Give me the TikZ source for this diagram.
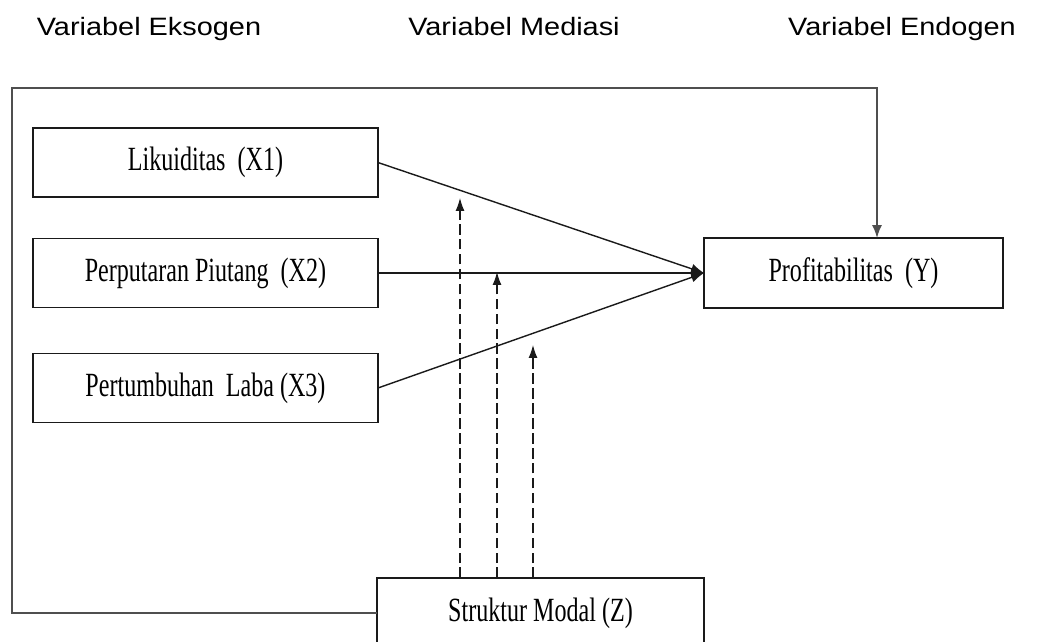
\documentclass[tikz,border=0pt]{standalone}
\usepackage{fontspec}
\setmainfont{Liberation Serif}[FakeStretch=0.71]
\newfontfamily\judulfont{Liberation Sans}[FakeStretch=1.15]
\usepackage{tikz}
\usetikzlibrary{arrows.meta,calc}
\definecolor{garis}{HTML}{1A1A1A}
\definecolor{abu}{HTML}{4F4F4F}
\tikzset{
  kotak/.style={draw=garis,line width=0.9pt,inner sep=0pt,outer sep=0pt,
    font=\fontsize{19.3}{22}\selectfont},
  kotakx/.style={kotak,minimum width=6.9cm,minimum height=1.38cm},
  judul/.style={anchor=base,font=\judulfont\fontsize{14.3}{17}\selectfont},
  panah/.style={-{Latex[length=2.6mm,width=2mm]},garis,line width=0.8pt},
  putus/.style={-{Latex[length=2.6mm,width=1.8mm]},garis,line width=0.7pt,
    dash pattern=on 6pt off 2.5pt},
  balik/.style={-{Latex[length=2.6mm,width=2mm]},abu,line width=0.9pt},
}

\begin{document}
\begin{tikzpicture}[x=0.02cm,y=-0.02cm]
  \clip (0,0) rectangle (1042,642);
  % judul kolom
  \node[judul] (eks) at (149,36) {Variabel Eksogen};
  \node[judul] (med) at (514,36) {Variabel Mediasi};
  \node[judul] (end) at (902,36) {Variabel Endogen};
  % variabel
  \node[kotakx] (likuid) at (205.5,162.5) {Likuiditas~ (X1)};
  \node[kotakx] (piutang) at (205.5,273) {Perputaran Piutang~ (X2)};
  \node[kotakx] (laba) at (205.5,388) {Pertumbuhan~ Laba (X3)};
  \node[kotak,minimum width=5.98cm,minimum height=1.4cm] (profit) at (853.5,273) {Profitabilitas~ (Y)};
  \node[kotak,minimum width=6.54cm,minimum height=1.4cm] (modal) at (540.5,613) {Struktur Modal (Z)};
  \coordinate (kiri) at (12,88);
  \coordinate (atas) at (877,88);
  \coordinate (m1) at (460,198);
  \coordinate (m2) at (497,272);
  \coordinate (m3) at (533,345);
  % pengaruh langsung
  \draw[panah] (likuid.east) -- (profit.west);
  \draw[panah] (piutang.east) -- (profit.west);
  \draw[panah] (laba.east) -- (profit.west);
  \draw[balik] (modal.west) -| (kiri) -- (atas) -- (atas |- profit.north);
  % mediasi
  \draw[putus] (modal.north -| m1) -- (m1);
  \draw[putus] (modal.north -| m2) -- (m2);
  \draw[putus] (modal.north -| m3) -- (m3);
\end{tikzpicture}
\end{document}
